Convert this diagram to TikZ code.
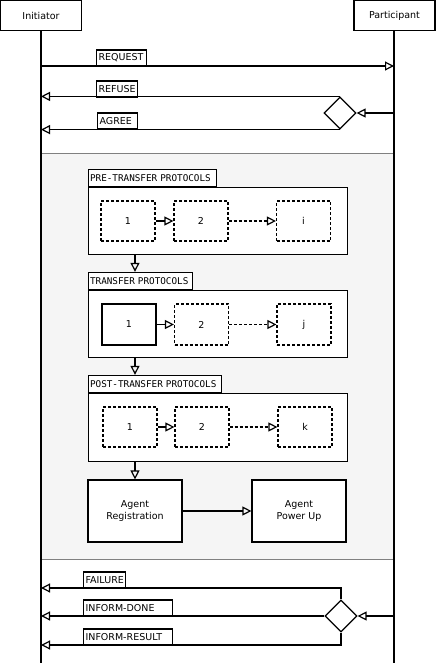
\documentclass[tikz,border=0pt]{standalone}
\usepackage{fontspec}
\setmainfont{DejaVu Sans}
\newfontfamily\monof{DejaVu Sans Mono}
\usetikzlibrary{arrows.meta,shapes.geometric}
\tikzset{
  base/.style={font=\fontsize{9.5}{11.5}\selectfont},
  lane/.style={base,draw,fill=white,minimum width=81pt,minimum height=30.5pt,inner sep=0pt},
  mlabel/.style={base,draw,fill=white,anchor=south west,inner xsep=2pt,inner ysep=0pt,minimum height=16pt,align=left},
  plabel/.style={draw,fill=white,anchor=south west,inner xsep=1.5pt,inner ysep=0pt,minimum height=17pt,align=left,font=\monof\fontsize{9.3}{11}\selectfont},
  group/.style={draw,fill=white,anchor=north west,minimum width=259pt,minimum height=67pt,inner sep=0pt},
  pbox/.style={base,draw,fill=white,minimum width=54pt,minimum height=40pt,inner sep=0pt},
  dbox/.style={pbox,dash pattern=on 3pt off 2pt},
  bigbox/.style={base,draw,fill=white,minimum width=94pt,minimum height=62pt,inner sep=0pt,align=center},
  choice/.style={diamond,draw,fill=white,minimum width=32pt,minimum height=32pt,inner sep=0pt,aspect=1},
  arr/.style={-{Triangle[open,length=9pt,width=9pt]}},
}
\begin{document}
\begin{tikzpicture}[x=1pt,y=-1pt,line width=1.2pt]
\useasboundingbox (0,0) rectangle (436,665);
% shaded region
\fill[gray!8] (41,153) rectangle (394,559);
\draw[gray,line width=0.9pt] (41,153) -- (394,153);
\draw[gray,line width=0.9pt] (41,559) -- (394,559);
% lifelines
\node[lane] (ini) at (41,15.5) {Initiator};
\node[lane] (par) at (394.5,15.5) {Participant};
\coordinate (iniEnd) at (41,663);
\coordinate (parEnd) at (394,663);
\draw (ini.south) -- (iniEnd);
\draw (par.south -| parEnd) -- (parEnd);
% top messages
\coordinate (reqS) at (41,66);
\coordinate (reqE) at (394,66);
\draw[arr] (reqS) -- (reqE);
\node[mlabel,text width=46pt] (lreq) at (96,66.5) {REQUEST};
\node[choice] (d1) at (340,113) {};
\coordinate (p1) at (394,113);
\draw[arr] (p1) -- (d1.east);
\draw[arr] (d1.north) -- (d1.north -| reqS);
\draw[arr] (d1.south) -- (d1.south -| reqS);
\node[mlabel,text width=37pt] (lref) at (96,97.5) {REFUSE};
\node[mlabel,text width=36pt] (lagr) at (97,129.5) {AGREE};
% pre-transfer
\node[group] (pre) at (88,187) {};
\node[plabel,text width=125pt] (prelab) at (88,187) {PRE-TRANSFER PROTOCOLS};
\node[dbox] (a1) at (128,221) {1};
\node[dbox] (a2) at (201,221) {2};
\node[dbox] (a3) at (303.5,221) {i};
\draw[arr] (a1) -- (a2);
\draw[arr,dash pattern=on 3pt off 2pt] (a2) -- (a3);
% transfer
\node[group] (tr) at (88,290) {};
\node[plabel,text width=101pt] (trlab) at (88,290) {TRANSFER PROTOCOLS};
\node[pbox,minimum height=41pt] (b1) at (129,324.5) {1};
\node[dbox,minimum height=41pt] (b2) at (201.5,324.5) {2};
\node[dbox,minimum height=41pt] (b3) at (304,324.5) {j};
\draw[arr] (b1) -- (b2);
\draw[arr,dash pattern=on 3pt off 2pt] (b2) -- (b3);
% post-transfer
\node[group,minimum height=68pt] (post) at (88,393) {};
\node[plabel,text width=130pt] (postlab) at (88,393) {POST-TRANSFER PROTOCOLS};
\node[dbox] (c1) at (130,427) {1};
\node[dbox] (c2) at (202,427) {2};
\node[dbox] (c3) at (305,427) {k};
\draw[arr] (c1) -- (c2);
\draw[arr,dash pattern=on 3pt off 2pt] (c2) -- (c3);
% connectors between groups
\draw[arr] ([xshift=47pt]pre.south west) -- ([xshift=47pt]trlab.north west);
\draw[arr] ([xshift=47pt]tr.south west) -- ([xshift=47pt]postlab.north west);
% agent boxes
\node[bigbox] (reg) at (135,511) {Agent\\Registration};
\node[bigbox] (pow) at (299,511) {Agent\\Power Up};
\draw[arr] (post.south -| reg.north) -- (reg.north);
\draw[arr] (reg) -- (pow);
% bottom messages
\node[choice] (d2) at (341,616) {};
\coordinate (p2) at (394,616);
\coordinate (fail) at (41,588);
\coordinate (res) at (41,645);
\draw[arr] (p2) -- (d2.east);
\draw[arr] (d2.north) |- (fail);
\draw[arr] (d2.west) -- (d2.west -| fail);
\draw[arr] (d2.south) |- (res);
\node[mlabel,text width=38pt] (lfail) at (83,588.5) {FAILURE};
\node[mlabel,text width=85pt] (ldone) at (83,616.5) {INFORM-DONE};
\node[mlabel,text width=85pt] (lres) at (83,645.5) {INFORM-RESULT};
\end{tikzpicture}
\end{document}
